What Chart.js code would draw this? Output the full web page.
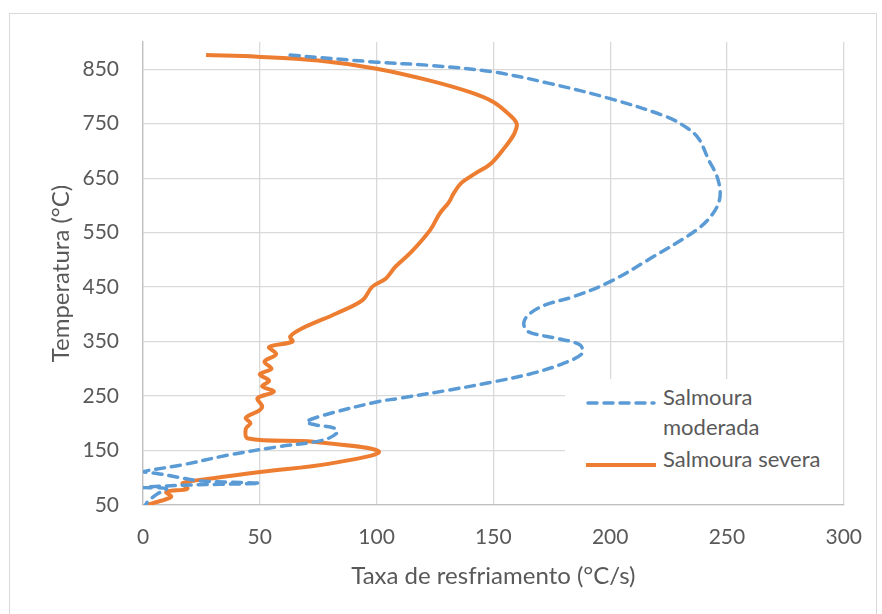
<!DOCTYPE html>
<html>
<head>
<meta charset="utf-8">
<script src="https://cdn.jsdelivr.net/npm/chart.js@4.4.1/dist/chart.umd.min.js"></script>
<style>
  html, body { margin: 0; padding: 0; background: #fff; }
  #wrap { position: relative; width: 882px; height: 614px; overflow: hidden; }
  #frame { position: absolute; left: 9px; top: 13px; width: 866px; height: 640px; border: 1px solid #D9D9D9; }
  #chart { position: absolute; left: 0; top: 0; }
  #legend { position: absolute; left: 565px; top: 379px; width: 278px; height: 125px; background: #fff;
            font-family: Lato, "Open Sans", sans-serif; font-size: 22px; color: #595959; }
  .item { position: absolute; left: 0; display: flex; align-items: flex-start; }
  .item svg { margin-left: 20px; margin-top: 6px; }
  .item span { margin-left: 6px; line-height: 30px; margin-top: -9px; }
</style>
</head>
<body>
<div id="wrap">
  <div id="frame"></div>
  <canvas id="chart" width="882" height="614"></canvas>
  <div id="legend">
    <div class="item" style="top:12px">
      <svg width="72" height="12"><line x1="3" y1="6" x2="69" y2="6" stroke="#5B9BD5" stroke-width="3.5" stroke-linecap="round" stroke-dasharray="9 7"/></svg>
      <span>Salmoura<br>moderada</span>
    </div>
    <div class="item" style="top:74px">
      <svg width="72" height="12"><line x1="1" y1="6" x2="71" y2="6" stroke="#ED7D31" stroke-width="4"/></svg>
      <span>Salmoura severa</span>
    </div>
  </div>
</div>
<script>
// Axis ticks
const xTicks = [0, 50, 100, 150, 200, 250, 300];
const yTicks = [50, 150, 250, 350, 450, 550, 650, 750, 850];

// Salmoura moderada (top to bottom)
const moderadaRate = [63, 100, 123, 150, 174, 200, 224, 233, 238, 242, 246, 247, 244, 237, 217, 200, 184, 172, 165, 163, 165, 177, 187, 188, 180, 167, 150, 131, 110, 101, 80, 70, 74, 82, 83, 77, 58, 37, 16, 3, 0, 6, 15, 25, 50, 22, 5, 0, 10, 6, 2, 1];
const moderadaTemp = [876, 863, 857, 845, 824, 796, 763, 742, 722, 685, 650, 615, 585, 555, 502, 460, 432, 417, 399, 383, 368, 356, 344, 328, 310, 292, 276, 261, 246, 240, 218, 203, 197, 191, 182, 169, 157, 142, 123, 114, 111, 108, 101, 94, 90, 87, 84, 82, 80, 70, 56, 50];

// Salmoura severa
const severaRate = [27, 49, 75, 100, 122, 140, 150, 157, 160, 159, 155, 149, 142, 136, 133, 131, 127, 123, 115, 108, 104, 98, 94, 83, 68, 63, 64, 54, 57, 52, 55, 50, 54, 51, 56, 49, 51, 50, 44, 46, 44, 45, 73, 101, 80, 51, 30, 17, 19, 10, 12, 4, 2];
const severaTemp = [876, 873, 866, 851, 830, 808, 790, 766, 750, 732, 707, 677, 658, 640, 622, 606, 585, 555, 515, 487, 466, 450, 426, 402, 374, 359, 350, 340, 327, 313, 300, 290, 278, 268, 258, 246, 232, 224, 210, 200, 190, 172, 166, 148, 126, 111, 99, 90, 80, 74, 65, 53, 50];

const toPoints = (xs, ys) => xs.map((x, i) => ({ x: x, y: ys[i] }));

Chart.defaults.font.family = 'Lato, "Open Sans", sans-serif';
Chart.defaults.color = '#595959';

new Chart(document.getElementById('chart'), {
    type: 'scatter',
    data: {
        datasets: [
            {
                label: 'Salmoura moderada',
                data: toPoints(moderadaRate, moderadaTemp),
                showLine: true,
                borderColor: '#5B9BD5',
                borderWidth: 3.5,
                borderDash: [9, 7],
                borderCapStyle: 'round',
                tension: 0.35,
                pointRadius: 0
            },
            {
                label: 'Salmoura severa',
                data: toPoints(severaRate, severaTemp),
                showLine: true,
                borderColor: '#ED7D31',
                borderWidth: 4,
                tension: 0.35,
                pointRadius: 0
            }
        ]
    },
    options: {
        responsive: false,
        animation: false,
        layout: { padding: { left: 0, top: 42, right: 37, bottom: 0 } },
        plugins: {
            legend: { display: false },
            tooltip: { enabled: false }
        },
        scales: {
            x: {
                type: 'linear',
                min: 0,
                max: 300,
                afterBuildTicks: (s) => { s.ticks = xTicks.map(v => ({ value: v })); },
                afterFit: (s) => { s.height = 109; },
                grid: { color: '#D9D9D9', lineWidth: 1.3, drawTicks: false },
                border: { color: '#BFBFBF', width: 1.3 },
                ticks: { font: { size: 21 }, padding: 20, color: '#595959' },
                title: {
                    display: true,
                    text: 'Taxa de resfriamento (°C/s)',
                    font: { size: 24 },
                    color: '#595959',
                    padding: { top: 0, bottom: 23 }
                }
            },
            y: {
                type: 'linear',
                min: 50,
                max: 900,
                afterBuildTicks: (s) => { s.ticks = yTicks.map(v => ({ value: v })); },
                afterFit: (s) => { s.width = 143; },
                grid: { color: '#D9D9D9', lineWidth: 1.3, drawTicks: false },
                border: { color: '#BFBFBF', width: 1.3 },
                ticks: { font: { size: 21 }, padding: 24, color: '#595959' },
                title: {
                    display: true,
                    text: 'Temperatura (°C)',
                    font: { size: 24 },
                    color: '#595959',
                    padding: { top: 47, bottom: 0 }
                }
            }
        }
    }
});
</script>
</body>
</html>
